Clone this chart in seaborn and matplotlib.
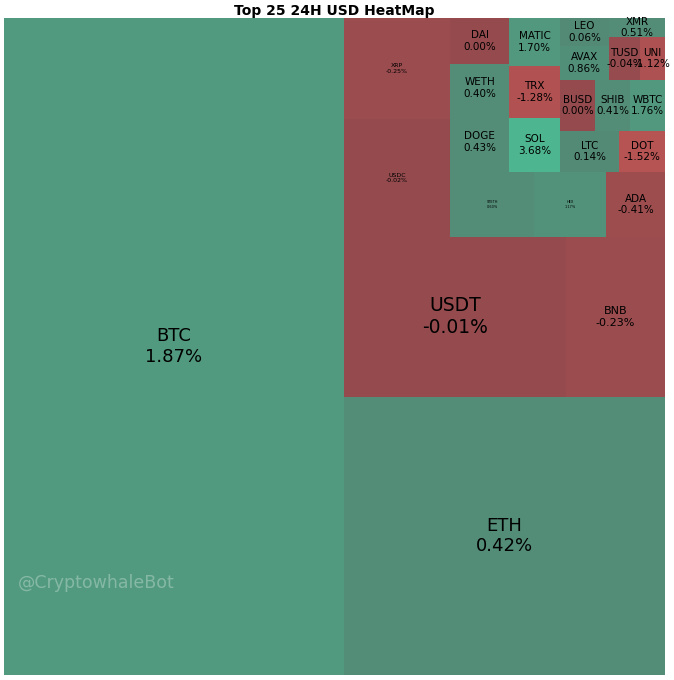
import matplotlib
matplotlib.use("Agg")
import matplotlib.pyplot as plt
import seaborn as sns

# top 25 coins, market cap (billion USD) and 24h change
coins = ["BTC", "ETH", "USDT", "BNB", "USDC", "XRP", "STETH", "HEX", "ADA",
         "DOGE", "WETH", "DAI", "SOL", "TRX", "MATIC", "LTC", "DOT", "BUSD",
         "SHIB", "WBTC", "AVAX", "LEO", "TUSD", "UNI", "XMR"]
market_cap = [560, 223.7, 89.0, 39.7, 31.4, 26.8, 13.7, 11.7, 9.6,
              8.9, 7.1, 6.8, 6.9, 6.6, 6.1, 6.1, 4.7, 4.5,
              4.5, 4.5, 4.2, 3.4, 3.3, 2.7, 2.7]
change_24h = [1.87, 0.42, -0.01, -0.23, -0.02, -0.25, 0.60, 1.17, -0.41,
              0.43, 0.40, 0.00, 3.68, -1.28, 1.70, 0.14, -1.52, 0.00,
              0.41, 1.76, 0.86, 0.06, -0.04, -1.12, 0.51]

# label font sizes
big = {"BTC": 13, "ETH": 13, "USDT": 13.5, "BNB": 8}
tiny = {"XRP": 4.5, "USDC": 4.5, "STETH": 2.5, "HEX": 2.5}


# squarify treemap layout
def layout_row(sizes, x, y, dx, dy):
    width = sum(sizes) / dy
    rects = []
    for s in sizes:
        rects.append((x, y, width, s / width))
        y += s / width
    return rects


def layout_col(sizes, x, y, dx, dy):
    height = sum(sizes) / dx
    rects = []
    for s in sizes:
        rects.append((x, y, s / height, height))
        x += s / height
    return rects


def layout(sizes, x, y, dx, dy):
    if dx >= dy:
        return layout_row(sizes, x, y, dx, dy)
    return layout_col(sizes, x, y, dx, dy)


def leftover(sizes, x, y, dx, dy):
    if dx >= dy:
        w = sum(sizes) / dy
        return x + w, y, dx - w, dy
    h = sum(sizes) / dx
    return x, y + h, dx, dy - h


def worst(sizes, x, y, dx, dy):
    return max(max(r[2] / r[3], r[3] / r[2]) for r in layout(sizes, x, y, dx, dy))


def squarify(sizes, x, y, dx, dy):
    if len(sizes) == 0:
        return []
    if len(sizes) == 1:
        return layout(sizes, x, y, dx, dy)
    i = 1
    while i < len(sizes) and worst(sizes[:i], x, y, dx, dy) >= worst(sizes[:i + 1], x, y, dx, dy):
        i += 1
    lx, ly, ldx, ldy = leftover(sizes[:i], x, y, dx, dy)
    return layout(sizes[:i], x, y, dx, dy) + squarify(sizes[i:], lx, ly, ldx, ldy)


total = sum(market_cap)
norm_sizes = [v * 100 * 100 / total for v in market_cap]
rects = squarify(norm_sizes, 0, 0, 100, 100)

sns.set_theme(style="white")
greens = sns.blend_palette(["#538a76", "#4db690"], as_cmap=True)
reds = sns.blend_palette(["#954b4e", "#b85353"], as_cmap=True)
colors = []
for c in change_24h:
    if c > 0:
        colors.append(greens(min(c / 3.7, 1) ** 1.5))
    else:
        colors.append(reds(min(-c / 1.6, 1)))

fig = plt.figure(figsize=(6.74, 6.8), dpi=100)
ax = fig.add_axes([4 / 674, 5 / 680, 661 / 674, 657 / 680])

xs = [r[0] for r in rects]
ys = [r[1] for r in rects]
ws = [r[2] for r in rects]
hs = [r[3] for r in rects]
ax.bar(xs, hs, width=ws, bottom=ys, color=colors, align="edge", linewidth=0)

for (x, y, w, h), name, c in zip(rects, coins, change_24h):
    fs = big.get(name, tiny.get(name, 7.5))
    ax.text(x + w / 2, y + h / 2, f"{name}\n{c:.2f}%", ha="center", va="center",
            fontsize=fs, color="black")

ax.text(0.021, 0.14, "@CryptowhaleBot", transform=ax.transAxes, fontsize=12.5,
        color="white", alpha=0.3, ha="left", va="center")

ax.set_xlim(0, 100)
ax.set_ylim(0, 100)
ax.axis("off")
ax.set_title("Top 25 24H USD HeatMap", fontsize=10, fontweight="bold", pad=2,
             color="black")

fig.savefig("out.png", dpi=100, facecolor="white")
